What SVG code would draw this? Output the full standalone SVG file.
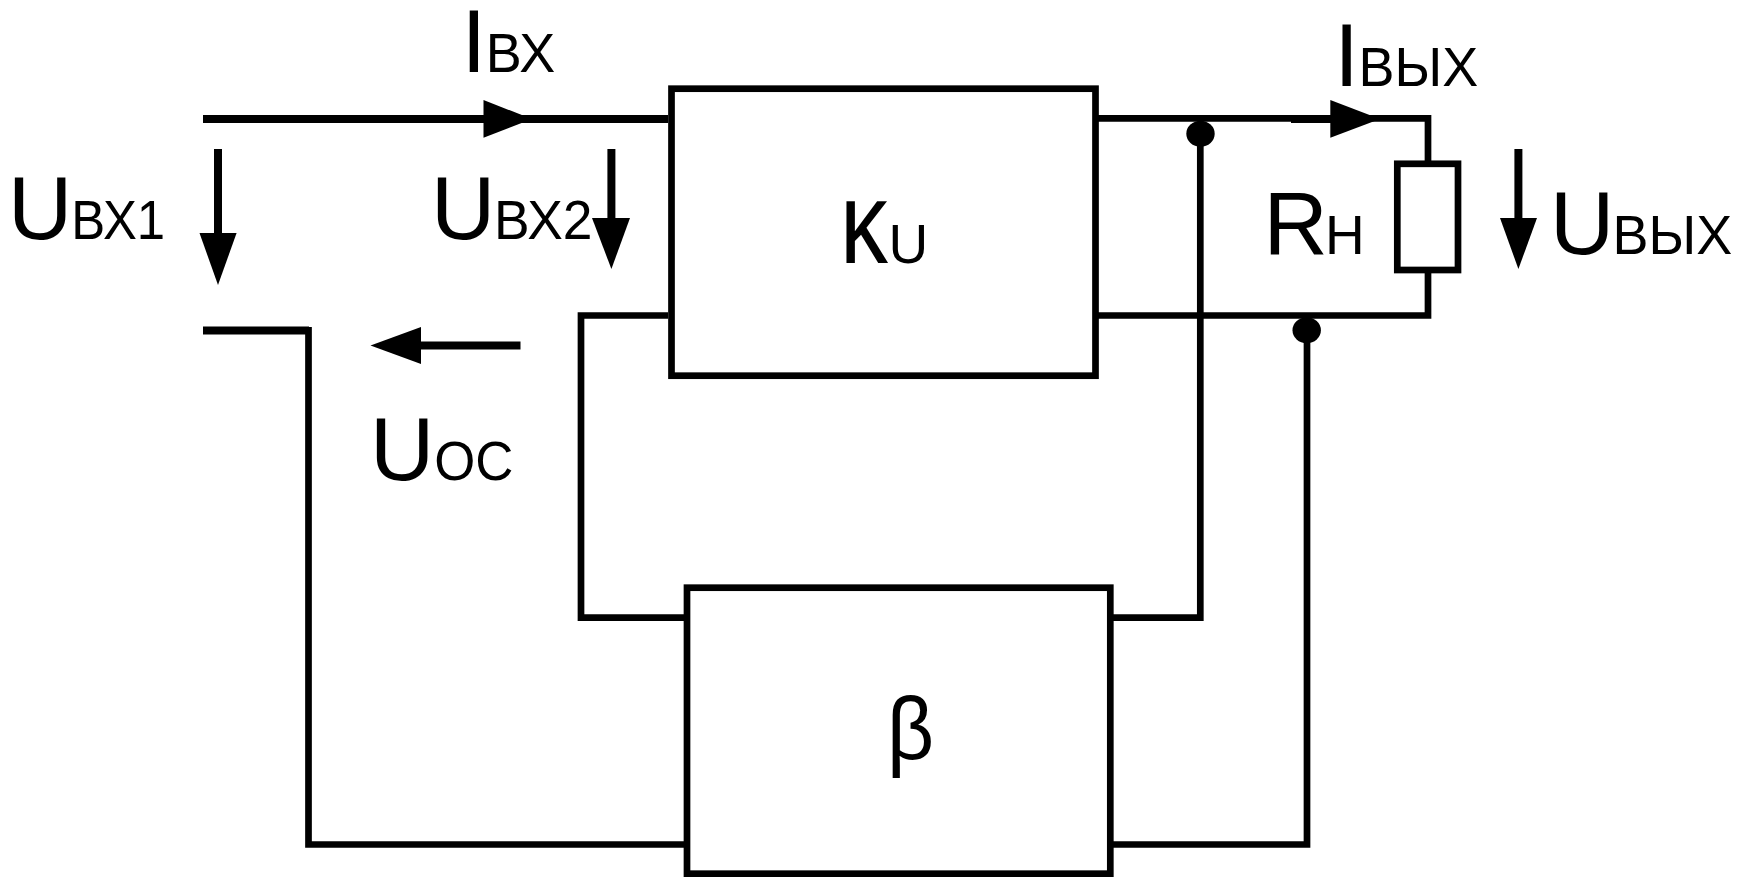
<svg xmlns="http://www.w3.org/2000/svg" width="1738" height="877" viewBox="0 0 1738 877">
<style>
text{font-family:"Liberation Sans",Arial,sans-serif;fill:#000}
.big{font-size:89px}
.sub{font-size:55px}
.w{fill:none;stroke:#000;stroke-width:6.7;stroke-linecap:butt}
.t{fill:none;stroke:#000;stroke-width:8}
.box{fill:#fff;stroke:#000;stroke-width:6.7}
.head{fill:#000}
</style>
<rect width="1738" height="877" fill="#fff"/>
<g id="connectors">
<path class="t" d="M203 119H668"/>
<path class="w" d="M1098 118.300H1428V164"/>
<path class="t" d="M1291 119H1332"/>
<path class="w" d="M1098 315.500H1428V270"/>
<path class="t" d="M203 330.500H309"/>
<path class="w" d="M308.500 327V844.500H685"/>
<path class="w" d="M668 315.500H581V617.700H685"/>
<path class="w" d="M1113 617.700H1200.300V130"/>
<path class="w" d="M1113 844.500H1307V330"/>
<ellipse class="head" cx="1200.500" cy="133.700" rx="14.200" ry="13"/>
<ellipse class="head" cx="1306.700" cy="330.300" rx="14.200" ry="13"/>
<polygon class="head" points="483.500,100 532,119 483.500,137.700"/>
<polygon class="head" points="1330.300,100 1380,119 1330.300,137.700"/>
<path class="t" d="M218 149V235"/>
<polygon class="head" points="199.500,233 236.600,233 218,285"/>
<path class="t" d="M611.400 149V220"/>
<polygon class="head" points="592,218 630,218 611.400,269"/>
<path class="t" d="M1518.400 149V220"/>
<polygon class="head" points="1500,218 1537,218 1518.400,269"/>
<path class="t" d="M520.500 345.500H419"/>
<polygon class="head" points="421,327 421,364 370.500,345.500"/>
</g>
<g id="node-ku">
<rect class="box" x="671.500" y="88.700" width="424" height="287"/>
<text class="big" style="font-size:117px" transform="translate(840 262.700) scale(0.82 1)">κ</text>
<text x="888.500" y="262.700" class="sub">U</text>
</g>
<g id="node-beta">
<rect class="box" x="687" y="587.700" width="423.300" height="286"/>
<text class="big" transform="translate(887 760) scale(0.92 1)">β</text>
</g>
<g id="node-rn">
<rect class="box" x="1397.300" y="163.800" width="60.700" height="106.200"/>
<text x="1263.500" y="254.300" class="big">R</text>
<text x="1325" y="254.300" class="sub">Н</text>
</g>
<g id="label-ivx"><text x="461.500" y="72.300" class="big">I</text><text class="sub" transform="translate(485.700 72.300) scale(0.98 1)">ВХ</text></g>
<g id="label-ivyx"><text x="1334.300" y="85.700" class="big">I</text><text class="sub" transform="translate(1358.500 85.700) scale(0.98 1)">ВЫХ</text></g>
<g id="label-uvx1"><text x="8" y="238.500" class="big">U</text><text class="sub" transform="translate(71.200 238.500) scale(0.925 1)">ВХ1</text></g>
<g id="label-uvx2"><text x="431" y="238.500" class="big">U</text><text class="sub" transform="translate(494 238.500) scale(0.97 1)">ВХ2</text></g>
<g id="label-uos"><text x="370" y="480" class="big">U</text><text class="sub" transform="translate(434.200 480) scale(0.96 1)">ОС</text></g>
<g id="label-uvyx"><text x="1550" y="254" class="big">U</text><text class="sub" transform="translate(1612.500 254) scale(0.98 1)">ВЫХ</text></g>
</svg>
